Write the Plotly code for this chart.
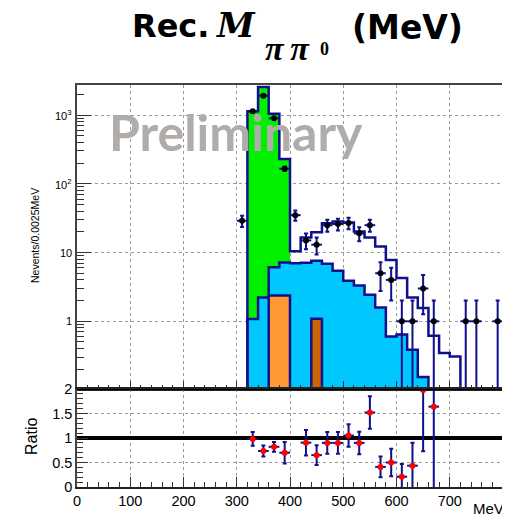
import numpy as np
import plotly.graph_objects as go

# ---------------- data ----------------
# MC stack, 20 MeV bins, bin centres in MeV
bin_centers = [330, 350, 370, 390, 410, 430, 450, 470, 490, 510,
               530, 550, 570, 590, 610, 630, 650, 670, 690, 710]
mc_orange = [0, 0, 2.37, 2.37, 0, 0, 0, 0, 0, 0,
             0, 0, 0, 0, 0, 0, 0, 0, 0, 0]
mc_darkorange = [0, 0, 0, 0, 0, 0, 1.09, 0, 0, 0,
                 0, 0, 0, 0, 0, 0, 0, 0, 0, 0]
mc_blue = [1.08, 2.22, 3.76, 4.80, 7.0, 7.1, 6.48, 6.85, 5.42, 3.88,
           3.32, 2.43, 1.59, 0.60, 0.64, 0.385, 0.155, 0, 0, 0]
mc_green = [1134, 2558, 1041, 223, 0, 0, 0, 0, 0, 0,
            0, 0, 0, 0, 0, 0, 0, 0, 0, 0]
mc_other = [0, 0, 0, 0, 3.4, 9.4, 12.2, 19.9, 22.8, 23.4,
            16.9, 14.1, 10.6, 7.2, 3.61, 1.84, 1.40, 0.615, 0.345, 0.308]

# data points
data_x = [310, 330, 350, 370, 390, 410, 430, 450, 470, 490, 510,
          530, 550, 570, 590, 610, 630, 650, 670, 730, 750, 790]
data_n = [29, 1135, 1914, 898, 166, 35, 15, 13, 25, 26, 27,
          19, 25, 5, 4, 1, 1, 3, 1, 1, 1, 1]

# ratio panel
ratio_x = [330, 350, 370, 390, 430, 450, 470, 490, 510, 530,
           550, 570, 590, 610, 630, 650, 670]
ratio_y = [0.98, 0.735, 0.82, 0.70, 0.905, 0.65, 0.90, 0.90, 1.05, 0.90,
           1.52, 0.41, 0.50, 0.21, 0.435, 1.98, 1.64]
ratio_err = [0.14, 0.11, 0.10, 0.22, 0.26, 0.20, 0.22, 0.22, 0.23, 0.23,
             0.33, 0.21, 0.28, 0.26, 0.47, 1.25, 1.70]

x_ticks = [0, 100, 200, 300, 400, 500, 600, 700, 800]
main_y_ticks = [1, 10, 100, 1000]
main_y_ticktext = ["1", "10", "10<sup>2</sup>", "10<sup>3</sup>"]
ratio_y_ticks = [0, 0.5, 1, 1.5, 2]
ratio_y_ticktext = ["0", "0.5", "1", "1.5", "2"]

# ---------------- style ----------------
NAVY = "rgb(16,16,140)"
C_ORANGE = "#ff9933"
C_DORANGE = "#cc6600"
C_BLUE = "#00c8ff"
C_GREEN = "#00f000"
HALF = 10  # half bin width (MeV)

# page body has an 8px margin -> figure is 8px smaller than the window
OFF = 8
W, H = 510 - OFF, 519 - OFF
ML, MR, MT, MB = 77 - OFF, 7, 85 - OFF, 32
PW, PH = W - ML - MR, H - MT - MB
RATIO_FRAC = 98 / PH
BOT = MT + PH + OFF  # window pixel of plot bottom


def X(px):
    return (px - (ML + OFF)) / PW


def Y(py):
    return (BOT - py) / PH


def step_xy(centers, heights, floor=1e-3):
    c = np.asarray(centers, float)
    h = np.asarray(heights, float)
    nz = np.nonzero(h > 0)[0]
    i0, i1 = nz[0], nz[-1]
    lefts = c[i0:i1 + 1] - HALF
    xs = [lefts[0]] + list(lefts) + [c[i1] + HALF]
    ys = [floor] + list(h[i0:i1 + 1]) + [floor]
    return xs, ys


fig = go.Figure()

# stacked filled bars
for vals, col in [(mc_orange, C_ORANGE), (mc_darkorange, C_DORANGE),
                  (mc_blue, C_BLUE), (mc_green, C_GREEN)]:
    xs = [c for c, v in zip(bin_centers, vals) if v > 0]
    ys = [v for v in vals if v > 0]
    fig.add_trace(go.Bar(x=xs, y=ys, width=2 * HALF, marker=dict(color=col, line=dict(width=0)),
                         xaxis="x", yaxis="y", hoverinfo="skip"))

# outlines
a_or = np.array(mc_orange)
a_do = np.array(mc_darkorange)
a_bl = np.array(mc_blue)
a_gr = np.array(mc_green)
a_ot = np.array(mc_other)
outlines = [a_or, a_do, a_or + a_do + a_bl, a_or + a_do + a_bl + a_gr + a_ot]
for arr in outlines:
    sx, sy = step_xy(bin_centers, arr)
    fig.add_trace(go.Scatter(x=sx, y=sy, mode="lines", line=dict(color=NAVY, width=2.5, shape="hv"),
                             xaxis="x", yaxis="y", hoverinfo="skip"))

# data points
dn = np.array(data_n, float)
err = np.sqrt(dn)
err_lo = np.minimum(err, dn * 0.9999)
fig.add_trace(go.Scatter(
    x=data_x, y=data_n, mode="markers", xaxis="x", yaxis="y",
    marker=dict(color="black", size=6),
    error_y=dict(type="data", array=err, arrayminus=err_lo, color=NAVY, thickness=2, width=2),
    error_x=dict(type="constant", value=HALF, color=NAVY, thickness=2, width=0),
))

# ratio points
fig.add_trace(go.Scatter(
    x=ratio_x, y=ratio_y, mode="markers", xaxis="x2", yaxis="y2",
    marker=dict(color="red", size=6),
    error_y=dict(type="data", array=ratio_err, color=NAVY, thickness=2, width=2),
    error_x=dict(type="constant", value=HALF, color=NAVY, thickness=2, width=0),
))

grid = dict(showgrid=True, gridcolor="#9a9a9a", griddash="dot", gridwidth=1, zeroline=False)

minor_log = [m * 10.0 ** e for e in range(-1, 4) for m in range(2, 10)]

fig.update_layout(
    width=W, height=H,
    margin=dict(l=ML, r=MR, t=MT, b=MB, autoexpand=False),
    plot_bgcolor="white", paper_bgcolor="white",
    barmode="stack", bargap=0, showlegend=False,
    font=dict(family="Liberation Sans", color="black"),
    xaxis=dict(domain=[0, 1], anchor="y", range=[0, 800], showticklabels=False,
               tickvals=x_ticks, ticks="inside", ticklen=8, tickcolor="#333",
               minor=dict(dtick=20, tick0=0, ticks="inside", ticklen=4, tickcolor="#333", showgrid=False),
               showline=True, linecolor="#444", linewidth=1.5, mirror=True, automargin=False, **grid),
    yaxis=dict(domain=[RATIO_FRAC, 1], anchor="x", type="log", range=[-0.985, 3.437],
               tickvals=main_y_ticks, showticklabels=False,
               ticks="inside", ticklen=14, tickcolor="#333",
               minor=dict(tickvals=minor_log, ticks="inside", ticklen=7, tickcolor="#333", showgrid=False),
               showline=True, linecolor="#444", linewidth=1.5, mirror=True, automargin=False, **grid),
    xaxis2=dict(domain=[0, 1], anchor="y2", range=[0, 800], matches="x",
                tickvals=x_ticks, ticktext=[str(v) for v in x_ticks], tickfont=dict(size=14.5),
                ticks="inside", ticklen=10, tickcolor="#333",
                minor=dict(dtick=20, tick0=0, ticks="inside", ticklen=5, tickcolor="#333", showgrid=False),
                showline=True, linecolor="#222", linewidth=2, mirror=True, automargin=False, **grid),
    yaxis2=dict(domain=[0, RATIO_FRAC], anchor="x2", range=[0, 2],
                tickvals=ratio_y_ticks, ticktext=ratio_y_ticktext, tickfont=dict(size=14.5),
                ticks="inside", ticklen=11, tickcolor="#333",
                minor=dict(dtick=0.1, tick0=0, ticks="inside", ticklen=6, tickcolor="#333", showgrid=False),
                showline=True, linecolor="#444", linewidth=1.5, mirror=True, automargin=False, **grid),
    shapes=[
        dict(type="line", xref="x2", yref="y2", x0=0, x1=800, y0=1, y1=1,
             line=dict(color="black", width=4), layer="between"),
        dict(type="line", xref="x2", yref="y2", x0=0, x1=800, y0=2, y1=2,
             line=dict(color="black", width=3), layer="above"),
    ],
)

ann = []
# main y tick labels (log axis)
for v, t in zip(main_y_ticks, main_y_ticktext):
    ann.append(dict(x=X(74), y=np.log10(v), xref="paper", yref="y", text=t, showarrow=False,
                    font=dict(size=11), xanchor="right", yanchor="middle"))
ann.append(dict(x=X(35), y=Y(236), xref="paper", yref="paper", text="Nevents/0.0025MeV",
                textangle=-90, showarrow=False, font=dict(size=10.5), xanchor="center", yanchor="middle"))
ann.append(dict(x=X(31), y=Y(437), xref="paper", yref="paper", text="Ratio",
                textangle=-90, showarrow=False, font=dict(size=16), xanchor="center", yanchor="middle"))
ann.append(dict(x=X(506), y=Y(508), xref="paper", yref="paper", text="MeV",
                showarrow=False, font=dict(size=15), xanchor="right", yanchor="middle"))
ann.append(dict(x=X(107), y=Y(132), xref="paper", yref="paper", text="<b>Preliminary</b>",
                showarrow=False, font=dict(size=50, family="Lato", color="rgb(176,172,170)"),
                xanchor="left", yanchor="middle"))
# title pieces
ann.append(dict(x=X(130), y=Y(26), xref="paper", yref="paper", text="<b>Rec.</b>",
                showarrow=False, font=dict(size=32, family="DejaVu Sans"), xanchor="left", yanchor="middle"))
ann.append(dict(x=X(214), y=Y(25), xref="paper", yref="paper", text="<b><i>M\u00a0</i></b>",
                showarrow=False, font=dict(size=34, family="DejaVu Serif"), xanchor="left", yanchor="middle"))
ann.append(dict(x=X(263), y=Y(49), xref="paper", yref="paper", text="<b><i>π\u2009π\u2009</i></b>",
                showarrow=False, font=dict(size=34, family="Liberation Serif"), xanchor="left", yanchor="middle"))
ann.append(dict(x=X(318), y=Y(49), xref="paper", yref="paper", text="<b>0</b>",
                showarrow=False, font=dict(size=18, family="Liberation Serif"), xanchor="left", yanchor="middle"))
ann.append(dict(x=X(350), y=Y(28), xref="paper", yref="paper", text="<b>(MeV)</b>",
                showarrow=False, font=dict(size=33, family="DejaVu Sans"), xanchor="left", yanchor="middle"))
fig.update_layout(annotations=ann)

fig.write_html("out.html")
